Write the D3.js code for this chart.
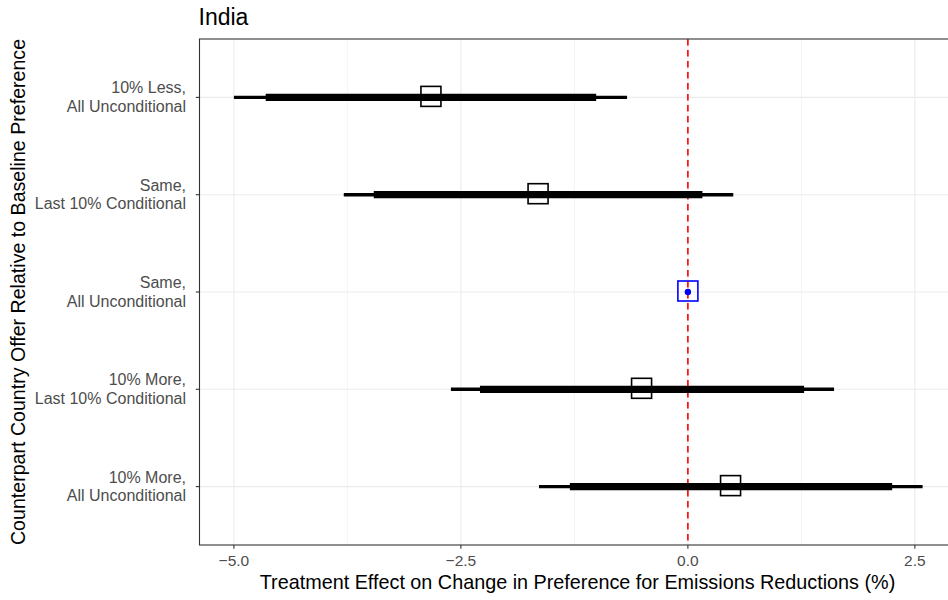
<!DOCTYPE html>
<html><head><meta charset="utf-8">
<script src="https://cdn.jsdelivr.net/npm/d3@7"></script>
<style>
html,body{margin:0;padding:0;background:#fff;}
svg{display:block;font-family:"Liberation Sans",Arial,Helvetica,sans-serif;}
</style></head>
<body>
<script>
const title = "India";
const categories = [
  ["10% Less,", "All Unconditional"],
  ["Same,", "Last 10% Conditional"],
  ["Same,", "All Unconditional"],
  ["10% More,", "Last 10% Conditional"],
  ["10% More,", "All Unconditional"]
];
const estimate = [-2.83, -1.65, 0, -0.51, 0.47];
const ci90Low  = [-4.65, -3.46, null, -2.29, -1.30];
const ci90High = [-1.01, 0.16, null, 1.28, 2.25];
const ci95Low  = [-5.00, -3.79, null, -2.61, -1.64];
const ci95High = [-0.67, 0.50, null, 1.61, 2.585];
const isBaseline = [false, false, true, false, false];
const xTicks = [-5.0, -2.5, 0.0, 2.5];
const xMinorTicks = [-3.75, -1.25, 1.25];
const xTitle = "Treatment Effect on Change in Preference for Emissions Reductions (%)";
const yTitle = "Counterpart Country Offer Relative to Baseline Preference";

const W = 948, H = 600;
const panel = {left: 199.5, top: 39, right: 957, bottom: 545};

const svg = d3.select("body").append("svg").attr("width", W).attr("height", H);

const x = d3.scaleLinear().domain([-5.379, 2.964]).range([panel.left, panel.right]);
const y = d3.scalePoint().domain(d3.range(categories.length)).range([panel.top, panel.bottom]).padding(0.6);

svg.append("defs").append("clipPath").attr("id","pc")
  .append("rect").attr("x",panel.left).attr("y",panel.top)
  .attr("width",panel.right-panel.left).attr("height",panel.bottom-panel.top);

const g = svg.append("g").attr("clip-path","url(#pc)");

// minor grid
g.selectAll(".minor").data(xMinorTicks).enter().append("line")
  .attr("x1", d=>x(d)).attr("x2", d=>x(d)).attr("y1", panel.top).attr("y2", panel.bottom)
  .attr("stroke", "#ebebeb").attr("stroke-width", 0.55);
// major grid
g.selectAll(".majorx").data(xTicks).enter().append("line")
  .attr("x1", d=>x(d)).attr("x2", d=>x(d)).attr("y1", panel.top).attr("y2", panel.bottom)
  .attr("stroke", "#ebebeb").attr("stroke-width", 1.1);
g.selectAll(".majory").data(d3.range(categories.length)).enter().append("line")
  .attr("x1", panel.left).attr("x2", panel.right).attr("y1", d=>y(d)).attr("y2", d=>y(d))
  .attr("stroke", "#ebebeb").attr("stroke-width", 1.1);

// zero reference line
g.append("line").attr("x1", x(0)).attr("x2", x(0)).attr("y1", panel.top).attr("y2", panel.bottom)
  .attr("stroke", "#ff0000").attr("stroke-width", 1.6).attr("stroke-dasharray", "6.5,4.5");

const idx = d3.range(categories.length).filter(i => !isBaseline[i]);
// thin CI
g.selectAll(".ci95").data(idx).enter().append("line")
  .attr("x1", i=>x(ci95Low[i])).attr("x2", i=>x(ci95High[i]))
  .attr("y1", i=>y(i)).attr("y2", i=>y(i))
  .attr("stroke", "#000").attr("stroke-width", 3.4);
// thick CI
g.selectAll(".ci90").data(idx).enter().append("line")
  .attr("x1", i=>x(ci90Low[i])).attr("x2", i=>x(ci90High[i]))
  .attr("y1", i=>y(i)).attr("y2", i=>y(i))
  .attr("stroke", "#000").attr("stroke-width", 7.3);
// squares
const s = 20;
g.selectAll(".pt").data(d3.range(categories.length)).enter().append("rect")
  .attr("x", i=>x(estimate[i]) - s/2).attr("y", i=>y(i) - s/2 - 1)
  .attr("width", s).attr("height", s)
  .attr("fill", "none")
  .attr("stroke", i=> isBaseline[i] ? "#0000ff" : "#000")
  .attr("stroke-width", 1.6);
g.selectAll(".dot").data(d3.range(categories.length).filter(i=>isBaseline[i])).enter().append("circle")
  .attr("cx", i=>x(estimate[i])).attr("cy", i=>y(i))
  .attr("r", 3.2).attr("fill", "#0000ff");

// panel border
svg.append("rect").attr("x",panel.left).attr("y",panel.top)
  .attr("width",panel.right-panel.left).attr("height",panel.bottom-panel.top)
  .attr("fill","none").attr("stroke","#333333").attr("stroke-width",1.1);

// x axis ticks & labels
svg.selectAll(".xt").data(xTicks).enter().append("line")
  .attr("x1", d=>x(d)).attr("x2", d=>x(d)).attr("y1", panel.bottom).attr("y2", panel.bottom+3.7)
  .attr("stroke","#333333").attr("stroke-width",1.1);
svg.selectAll(".xl").data(xTicks).enter().append("text")
  .attr("x", d=>x(d)).attr("y", 566)
  .attr("text-anchor","middle").attr("font-size",15.5).attr("fill","#4d4d4d")
  .text(d => d3.format(".1f")(d).replace("-", "\u2212"));

// y axis ticks & labels
svg.selectAll(".yt").data(d3.range(categories.length)).enter().append("line")
  .attr("x1", panel.left-3.7).attr("x2", panel.left).attr("y1", d=>y(d)).attr("y2", d=>y(d))
  .attr("stroke","#333333").attr("stroke-width",1.1);
const yl = svg.selectAll(".yl").data(d3.range(categories.length)).enter().append("text")
  .attr("text-anchor","end").attr("font-size",16).attr("fill","#4d4d4d");
yl.each(function(i){
  const t = d3.select(this);
  categories[i].forEach((line, k) => {
    t.append("tspan").attr("x", panel.left - 13.5).attr("y", y(i) - 4 + k*18.7).text(line);
  });
});

// titles
svg.append("text").attr("x", 577.5).attr("y", 589)
  .attr("text-anchor","middle").attr("font-size",19.8).attr("fill","#000").text(xTitle);
svg.append("text").attr("transform", `translate(25,${(panel.top+panel.bottom)/2}) rotate(-90)`)
  .attr("text-anchor","middle").attr("font-size",19.6).attr("fill","#000").text(yTitle);
svg.append("text").attr("x", panel.left - 1).attr("y", 25)
  .attr("font-size",23).attr("fill","#000").text(title);
</script>
</body></html>
